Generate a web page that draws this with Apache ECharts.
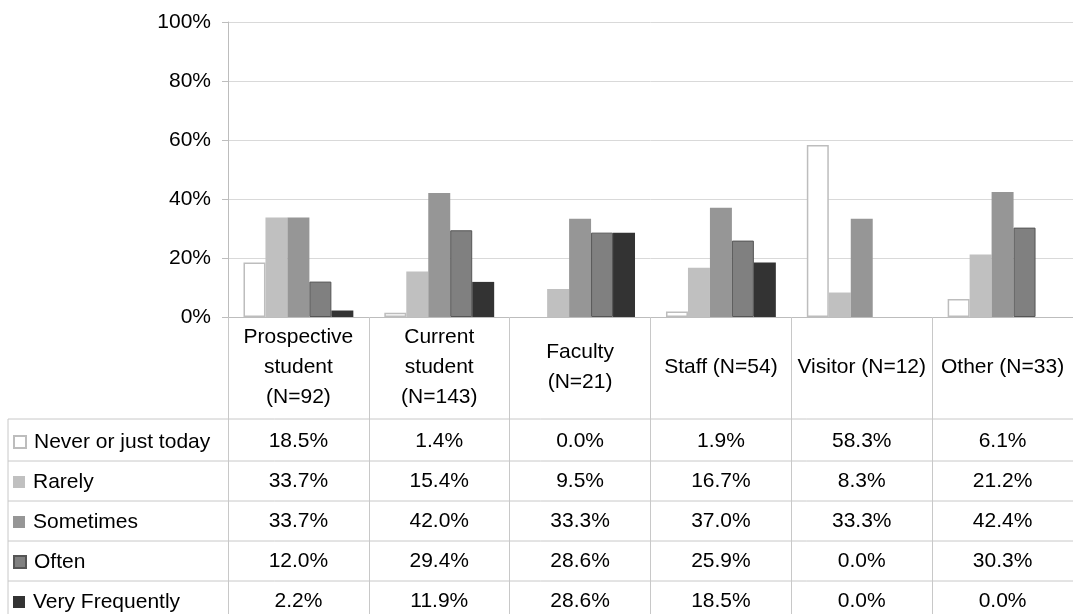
<!DOCTYPE html>
<html>
<head>
<meta charset="utf-8">
<script src="https://cdn.jsdelivr.net/npm/echarts@6/dist/echarts.min.js"></script>
<style>
  html, body { margin: 0; padding: 0; background: #fff; }
  #chart { width: 1073px; height: 614px; }
</style>
</head>
<body>
<div id="chart"></div>
<script>
// ---- data ----
const categories = [
  'Prospective\nstudent\n(N=92)',
  'Current\nstudent\n(N=143)',
  'Faculty\n(N=21)',
  'Staff (N=54)',
  'Visitor (N=12)',
  'Other (N=33)'
];
const seriesNames = ['Never or just today', 'Rarely', 'Sometimes', 'Often', 'Very Frequently'];
const neverData      = [18.5, 1.4, 0.0, 1.9, 58.3, 6.1];
const rarelyData     = [33.7, 15.4, 9.5, 16.7, 8.3, 21.2];
const sometimesData  = [33.7, 42.0, 33.3, 37.0, 33.3, 42.4];
const oftenData      = [12.0, 29.4, 28.6, 25.9, 0.0, 30.3];
const veryFreqData   = [2.2, 11.9, 28.6, 18.5, 0.0, 0.0];
const yTicks = [0, 20, 40, 60, 80, 100];

const allData = [neverData, rarelyData, sometimesData, oftenData, veryFreqData];

// ---- styles ----
const FONT = "'Liberation Sans', Arial, sans-serif";
const FS = 21;
const styles = [
  { color: '#ffffff', borderColor: '#bdbdbd', borderWidth: 1.5 },
  { color: '#c0c0c0' },
  { color: '#969696' },
  { color: '#808080', borderColor: '#555555', borderWidth: 1 },
  { color: '#333333' }
];

const gridTop = 22, gridBottomY = 317, gridLeft = 228;
const rowCenters = [441, 481, 521, 561, 601];
const rowLines = [419, 461, 501, 541, 581];
const lineColor = '#c8c8c8';

const chart = echarts.init(document.getElementById('chart'));

const xAxes = [{
  type: 'category',
  data: categories,
  gridIndex: 0,
  position: 'bottom',
  axisLine: { show: true, lineStyle: { color: '#bdbdbd', width: 1 } },
  axisTick: { show: true, length: 300, lineStyle: { color: lineColor, width: 1 } },
  axisLabel: {
    interval: 0, margin: 50, verticalAlign: 'middle', lineHeight: 30,
    fontFamily: FONT, fontSize: FS, color: '#000'
  },
  splitLine: { show: false }
}];
allData.forEach((arr, r) => {
  xAxes.push({
    type: 'category',
    data: categories,
    gridIndex: 0,
    position: 'bottom',
    offset: rowCenters[r] - gridBottomY,
    axisLine: { show: false },
    axisTick: { show: false },
    splitLine: { show: false },
    axisLabel: {
      interval: 0, margin: 0, verticalAlign: 'middle',
      fontFamily: FONT, fontSize: FS, color: '#000',
      formatter: (v, i) => arr[i].toFixed(1) + '%'
    }
  });
});

const legends = seriesNames.map((n, i) => ({
  data: [n],
  orient: 'vertical',
  left: 13,
  top: rowCenters[i] - 11,
  padding: 0,
  icon: 'rect',
  itemWidth: 12,
  itemHeight: 12,
  selectedMode: false,
  textStyle: { fontFamily: FONT, fontSize: FS, color: '#000', lineHeight: 24, padding: [0, 0, 0, 3] }
}));

const graphics = [];
rowLines.forEach(y => {
  graphics.push({ type: 'line', shape: { x1: 8, y1: y, x2: 1073, y2: y }, style: { stroke: lineColor, lineWidth: 1 }, silent: true });
});
graphics.push({ type: 'line', shape: { x1: 8, y1: rowLines[0], x2: 8, y2: 614 }, style: { stroke: lineColor, lineWidth: 1 }, silent: true });

chart.setOption({
  animation: false,
  backgroundColor: '#ffffff',
  grid: { left: gridLeft, right: 0, top: gridTop, bottom: 614 - gridBottomY, containLabel: false },
  legend: legends,
  xAxis: xAxes,
  yAxis: {
    type: 'value',
    min: yTicks[0], max: yTicks[yTicks.length - 1], interval: 20,
    axisLine: { show: true, lineStyle: { color: '#bdbdbd' } },
    axisTick: { show: true, length: 6, lineStyle: { color: '#bdbdbd' } },
    axisLabel: { margin: 17, fontFamily: FONT, fontSize: FS, color: '#000', formatter: '{value}%' },
    splitLine: { show: true, lineStyle: { color: '#d9d9d9', width: 1 } }
  },
  series: seriesNames.map((n, i) => ({
    name: n,
    type: 'bar',
    xAxisIndex: 0,
    data: allData[i].map(v => v === 0 ? { value: v, itemStyle: { borderWidth: 0, opacity: 0 } } : v),
    barGap: '0%',
    barCategoryGap: '22%',
    itemStyle: styles[i]
  })),
  graphic: graphics
});
</script>
</body>
</html>
